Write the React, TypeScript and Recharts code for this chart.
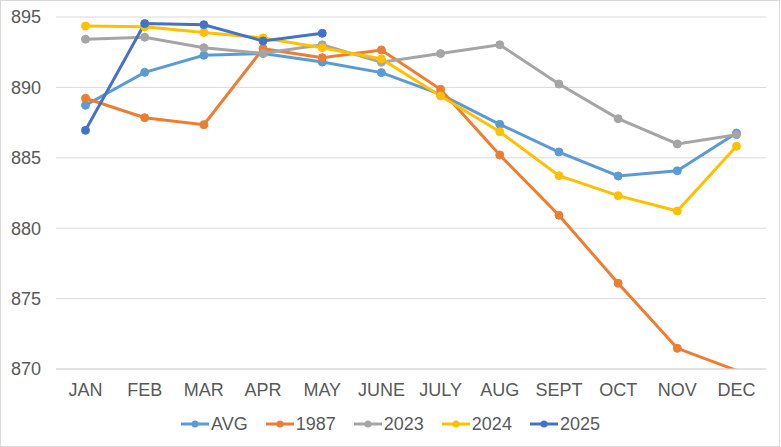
import React from "react"
import { LineChart, Line, XAxis, YAxis, CartesianGrid, Legend } from "recharts"

const months = ["JAN", "FEB", "MAR", "APR", "MAY", "JUNE", "JULY", "AUG", "SEPT", "OCT", "NOV", "DEC"]

const avg = [888.73, 891.07, 892.28, 892.4, 891.8, 891.05, 889.5, 887.38, 885.41, 883.71, 884.08, 886.76]
const y1987 = [889.23, 887.85, 887.35, 892.75, 892.11, 892.66, 889.86, 885.2, 880.92, 876.09, 871.47, 869.9]
const y2023 = [893.42, 893.56, 892.82, 892.42, 893.03, 891.78, 892.4, 893.03, 890.24, 887.78, 885.98, 886.64]
const y2024 = [894.36, 894.3, 893.9, 893.51, 892.82, 892.02, 889.39, 886.85, 883.73, 882.31, 881.22, 885.82]
const y2025 = [886.95, 894.53, 894.45, 893.3, 893.84]

const yTicks = [870, 875, 880, 885, 890, 895]
const yMin = 870

const series = [
    { key: "AVG", values: avg, color: "#5B9BD5" },
    { key: "1987", values: y1987, color: "#ED7D31" },
    { key: "2023", values: y2023, color: "#A5A5A5" },
    { key: "2024", values: y2024, color: "#FFC000" },
    { key: "2025", values: y2025, color: "#4472C4" },
]

const data = months.map((m, i) => {
    const row: Record<string, string | number | null> = { month: m }
    series.forEach((s) => {
        row[s.key] = i < s.values.length ? s.values[i] : null
    })
    return row
})

const font = "'Liberation Sans', Arial, sans-serif"

// legend drawn by hand so the spacing matches the Excel look
const renderLegend = () => (
    <div style={{ display: "flex", justifyContent: "center", gap: 18, height: 24, alignItems: "center", fontFamily: font, fontSize: 18, color: "#595959" }}>
        {series.map((s) => (
            <div key={s.key} style={{ display: "flex", alignItems: "center" }}>
                <svg width={28} height={10} style={{ marginRight: 2 }}>
                    <line x1={0} y1={5} x2={28} y2={5} stroke={s.color} strokeWidth={3} />
                    <circle cx={14} cy={5} r={3.5} fill={s.color} />
                </svg>
                <span>{s.key}</span>
            </div>
        ))}
    </div>
)

// Excel hides markers that fall below the axis minimum
// eslint-disable-next-line
const makeDot = (color: string) => (props: any) => {
    const { cx, cy, value, index } = props
    if (value == null || value < yMin || cx == null || cy == null) return <g key={`d-${index}`} />
    return <circle key={`d-${index}`} cx={cx} cy={cy} r={4} fill={color} stroke={color} strokeWidth={1} />
}

export default function App() {
    return (
        <div style={{ position: "absolute", left: 0, top: 0, width: 780, height: 447, border: "1px solid #d9d9d9", boxSizing: "border-box", background: "#fff" }}>
            <div style={{ position: "absolute", left: -1, top: -1 }}>
                <LineChart width={781} height={447} data={data} margin={{ top: 17, right: 15, left: 0, bottom: 11 }}>
                    <CartesianGrid vertical={false} stroke="#d9d9d9" strokeWidth={1} />
                    <XAxis
                        dataKey="month"
                        height={43}
                        padding={{ left: 29.5, right: 29.5 }}
                        axisLine={{ stroke: "#d9d9d9" }}
                        tickLine={false}
                        tickMargin={8}
                        interval={0}
                        tick={{ fill: "#595959", fontSize: 18, fontFamily: font }}
                    />
                    <YAxis
                        width={56}
                        domain={[yMin, 895]}
                        ticks={yTicks}
                        allowDataOverflow
                        axisLine={false}
                        tickLine={false}
                        tickMargin={9}
                        tick={{ fill: "#595959", fontSize: 18, fontFamily: font }}
                    />
                    <Legend verticalAlign="bottom" content={renderLegend} wrapperStyle={{ left: 0, width: 781 }} />
                    {series.map((s) => (
                        <Line
                            key={s.key}
                            dataKey={s.key}
                            stroke={s.color}
                            strokeWidth={3}
                            dot={makeDot(s.color)}
                            type="linear"
                            isAnimationActive={false}
                        />
                    ))}
                </LineChart>
            </div>
        </div>
    )
}
